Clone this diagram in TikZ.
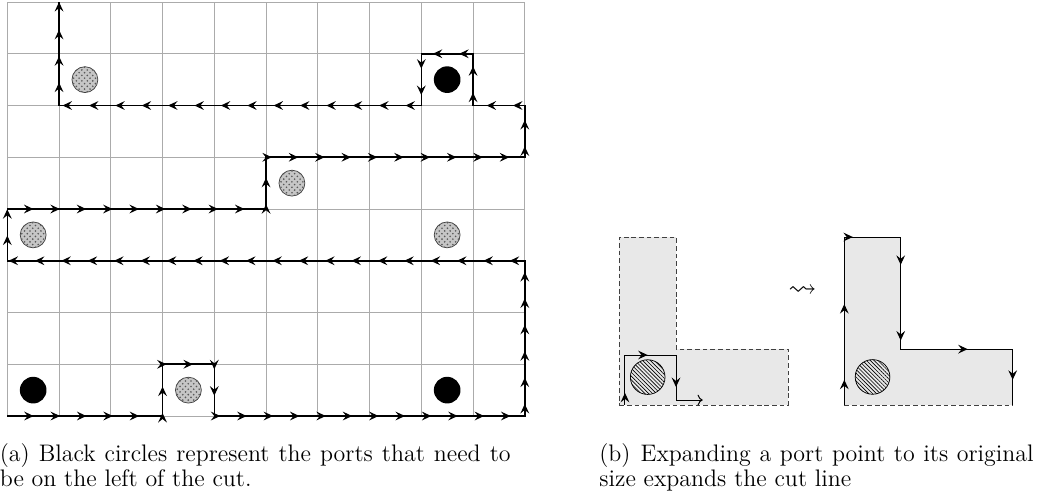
\documentclass[tikz,border=0pt]{standalone}
\usepackage{amssymb}
\usetikzlibrary{arrows.meta,decorations.markings,patterns,patterns.meta}
\newcommand{\captfont}{\fontsize{13.15}{16}\selectfont}
\tikzset{
  gridline/.style={draw=black!33, line width=0.45pt},
  cutarrow/.tip={Stealth[length=5.2pt,width=4.8pt,inset=1.9pt]},
  cutline/.style={line width=0.85pt, line join=miter, postaction={decorate},
    decoration={markings,
      mark=between positions 0.01 and 0.995 step 0.01 with {\arrow{cutarrow}},
      mark=at position 1 with {\arrow{cutarrow}}}},
  blackport/.style={circle, fill=black, minimum size=0.515cm, inner sep=0pt},
  grayport/.style={circle, draw=black!75, line width=0.4pt, fill=gray!45,
    postaction={pattern=crosshatch dots, pattern color=gray!70!black},
    minimum size=0.5cm, inner sep=0pt},
  region/.style={fill=gray!18, draw=black!75, line width=0.5pt,
    dash pattern=on 2.6pt off 1.6pt},
  hatchport/.style={circle, draw=black, line width=0.4pt,
    pattern={Lines[angle=-45,distance=1.5pt,line width=0.35pt]},
    minimum size=0.67cm, inner sep=0pt},
  thincut/.style={line width=0.55pt},
  captline/.style={anchor=base west, inner sep=0pt, font=\captfont},
}
\begin{document}
\begin{tikzpicture}
\useasboundingbox (-0.141,-1.643) rectangle (19.898,8.039);

% ---------- (a) grid ----------
\draw[gridline] (0,0) grid (10,8);

\node[blackport] (b1) at (0.5,0.5) {};
\node[blackport] (b2) at (8.5,0.5) {};
\node[blackport] (b3) at (8.5,6.5) {};
\node[grayport] (g1) at (1.5,6.5) {};
\node[grayport] (g2) at (5.5,4.5) {};
\node[grayport] (g3) at (0.5,3.5) {};
\node[grayport] (g4) at (8.5,3.5) {};
\node[grayport] (g5) at (3.5,0.5) {};

\draw[cutline] (0,0) -- (3,0) -- (3,1) -- (4,1) -- (4,0) -- (10,0) -- (10,3)
  -- (0,3) -- (0,4) -- (5,4) -- (5,5) -- (10,5) -- (10,6) -- (9,6) -- (9,7)
  -- (8,7) -- (8,6) -- (1,6) -- (1,8);

% ---------- (b) ----------
\draw[region] (11.826,0.213) -- (15.090,0.213) -- (15.090,1.292) -- (12.922,1.292)
  -- (12.922,3.459) -- (11.826,3.459) -- cycle;
\node[hatchport] (p1) at (12.375,0.752) {};
\draw[thincut, ->, postaction={decorate}, decoration={markings,
    mark=at position 0.07 with {\arrow{cutarrow}},
    mark=at position 0.42 with {\arrow{cutarrow}},
    mark=at position 0.77 with {\arrow{cutarrow}}}]
  (11.936,0.213) -- (11.936,1.179) -- (12.922,1.179) -- (12.922,0.309) -- (13.438,0.309);

\node[inner sep=0pt, font=\fontsize{15.5}{18}\selectfont] (lead) at (15.366,2.42) {$\leadsto$};

\draw[region] (16.174,0.213) -- (19.428,0.213) -- (19.428,1.292) -- (17.264,1.292)
  -- (17.264,3.459) -- (16.174,3.459) -- cycle;
\node[hatchport] (p2) at (16.72,0.755) {};
\draw[thincut, postaction={decorate}, decoration={markings,
    mark=between positions 0.05 and 0.96 step 0.15 with {\arrow{cutarrow}}}]
  (16.174,0.213) -- (16.174,3.459) -- (17.264,3.459) -- (17.264,1.292)
  -- (19.428,1.292) -- (19.428,0.213);

% ---------- captions ----------
\node[captline] (ca1) at (-0.151,-0.883) {\makebox[9.87cm][s]{(a) Black circles represent the ports that need to}};
\node[captline] (ca2) at (-0.151,-1.353) {be on the left of the cut.};
\node[captline] (cb1) at (11.434,-0.883) {\makebox[8.392cm][s]{(b)\hspace{0.42em}Expanding a port point to its original}};
\node[captline] (cb2) at (11.434,-1.353) {size expands the cut line};
\end{tikzpicture}
\end{document}
